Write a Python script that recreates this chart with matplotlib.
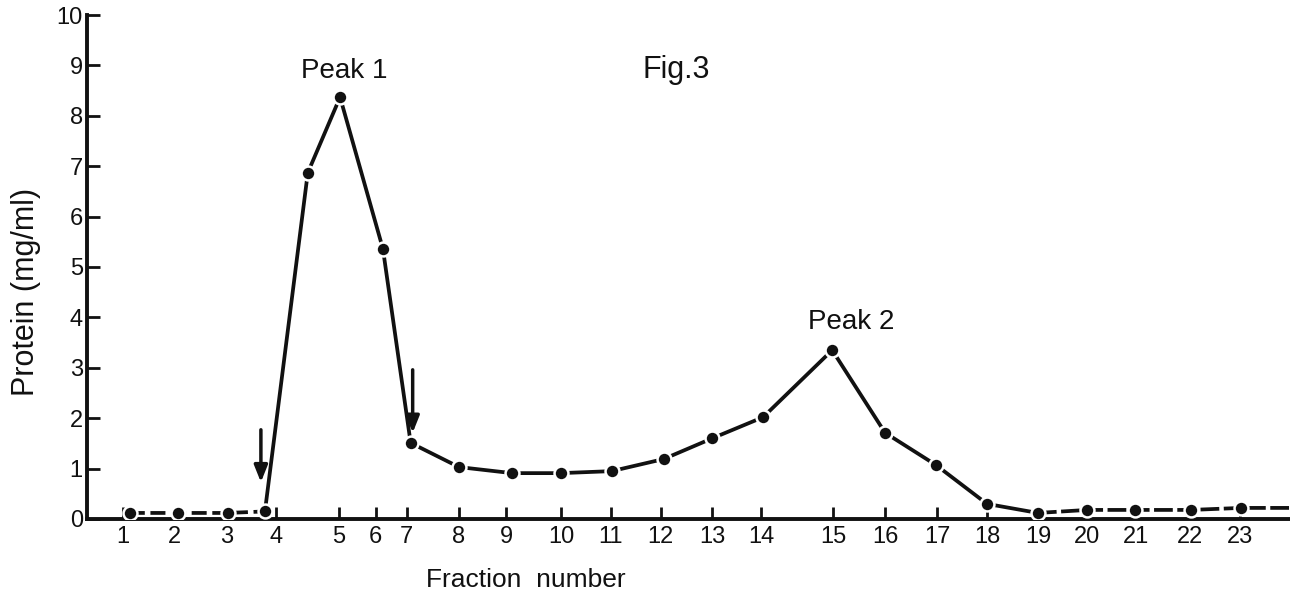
import numpy as np
import matplotlib
matplotlib.use('Agg')
from matplotlib import pyplot as plt

plt.rcParams['font.family'] = ['Liberation Sans', 'DejaVu Sans']

# tick labels and where they sit along the axis (axis drawn to the paper, not evenly spaced)
tick_labels = [str(i) for i in range(1, 24)]
tick_pos = [1.0, 2.03, 3.06, 4.04, 5.29, 6.02, 6.63, 7.67, 8.6, 9.69, 10.68, 11.67,
            12.69, 13.66, 15.09, 16.12, 17.15, 18.14, 19.15, 20.13, 21.1, 22.17, 23.16]

# measured points (position along axis, protein mg/ml)
low_x = [1.14, 2.09, 3.08, 3.82]
low_y = [0.12, 0.12, 0.12, 0.15]
main_x = [3.82, 4.67, 5.31, 6.16, 6.71, 7.67, 8.72, 9.69, 10.7, 11.73, 12.69, 13.7,
          15.07, 16.12, 17.13, 18.14, 19.15]
main_y = [0.15, 6.87, 8.37, 5.36, 1.51, 1.03, 0.91, 0.91, 0.95, 1.19, 1.6, 2.02,
          3.35, 1.71, 1.07, 0.3, 0.12]
tail_x = [19.15, 20.13, 21.08, 22.19, 23.18, 24.2]
tail_y = [0.12, 0.18, 0.18, 0.18, 0.22, 0.22]

fig = plt.figure(figsize=(12.9, 5.93), dpi=100)
ax = fig.add_axes([0.0674, 0.1248, 0.9326, 0.8499])

ink = '#111111'
lw = 2.7
ax.plot(low_x, low_y, color=ink, lw=lw, ls=(0, (4, 1.5)), zorder=2)
ax.plot(main_x, main_y, color=ink, lw=lw, zorder=2)
ax.plot(tail_x, tail_y, color=ink, lw=lw, ls=(0, (5, 1.2)), zorder=2)
ax.plot(low_x + main_x[1:] + tail_x[1:-1], low_y + main_y[1:] + tail_y[1:-1], ls='none',
        marker='o', ms=10, mfc=ink, mec='white', mew=1.8, zorder=3)

# arrows marking pooled fractions
for xa, y0, y1 in [(3.74, 1.77, 0.73), (6.75, 2.96, 1.71)]:
    ax.annotate('', xy=(xa, y1), xytext=(xa, y0),
                arrowprops=dict(arrowstyle='-|>,head_width=0.4,head_length=1.0',
                                color=ink, lw=2.5, shrinkA=0, shrinkB=0))

ax.text(5.40, 8.89, 'Peak 1', fontsize=20, ha='center', va='center', color=ink)
ax.text(15.44, 3.91, 'Peak 2', fontsize=20, ha='center', va='center', color=ink)
ax.text(11.97, 8.91, 'Fig.3', fontsize=22, ha='center', va='center', color=ink)

ax.set_xlim(0.29, 24.15)
ax.set_ylim(0, 10)
ax.set_xticks(tick_pos)
ax.set_xticklabels(tick_labels)
ax.set_yticks(range(11))
ax.tick_params(direction='in', length=9, width=2, colors=ink, labelsize=17)
ax.tick_params(axis='x', pad=5)
ax.tick_params(axis='y', pad=3)
for s in ['top', 'right']:
    ax.spines[s].set_visible(False)
for s in ['left', 'bottom']:
    ax.spines[s].set_linewidth(2.8)
    ax.spines[s].set_color(ink)

ax.text(0.365, -0.121, 'Fraction  number', transform=ax.transAxes, fontsize=19,
        ha='center', va='center', color=ink)
ax.text(-0.0505, 0.45, 'Protein (mg/ml)', transform=ax.transAxes, fontsize=22,
        rotation=90, ha='center', va='center', color=ink)

fig.savefig('out.png', dpi=100)
